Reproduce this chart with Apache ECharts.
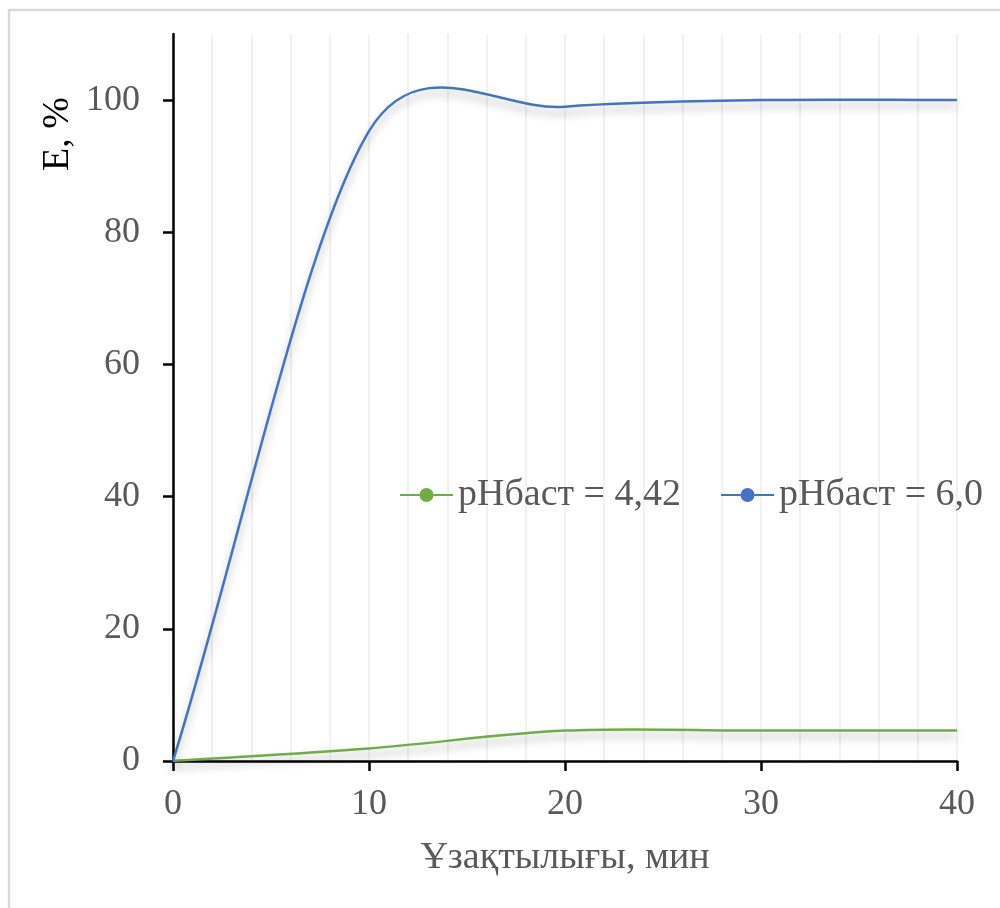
<!DOCTYPE html>
<html>
<head>
<meta charset="utf-8">
<style>
  html, body { margin: 0; padding: 0; background: #ffffff; }
  #chart { width: 1000px; height: 908px; }
</style>
<script src="https://cdn.jsdelivr.net/npm/echarts@6/dist/echarts.min.js"></script>
</head>
<body>
<div id="chart"></div>
<script>
// Extraction degree E (%) versus contact time (min) at two initial pH values
const timeMin = [0, 10, 20, 30, 40];
const seriesNames = ['pHбаст = 4,42', 'pHбаст = 6,0'];
const valuesPh442 = [0, 1.9, 4.6, 4.6, 4.6];
const valuesPh60 = [0, 95.3, 99.0, 100.0, 100.0];
const yTickValues = [0, 20, 40, 60, 80, 100];
const xTickValues = [0, 10, 20, 30, 40];
const xAxisTitle = 'Ұзақтылығы, мин';
const yAxisTitle = 'E, %';

const FONT = "'Liberation Serif', 'Times New Roman', serif";
const GREEN = '#70AD47';
const BLUE = '#4472C4';

// legend glyph: short line with a round marker in the middle
const LEGEND_ICON = 'path://M0,10 L19.5,10 L19.5,12 L0,12 Z ' +
  'M33.5,10 L53,10 L53,12 L33.5,12 Z ' +
  'M19.5,11 A7,7 0 1,0 33.5,11 A7,7 0 1,0 19.5,11 Z';

function pairs(xs, ys) {
  return xs.map((x, i) => [x, ys[i]]);
}

function dist(a, b) {
  return Math.hypot(b[0] - a[0], b[1] - a[1]);
}

// Cubic Bezier spline through the projected points (spreadsheet-style smoothing:
// Catmull-Rom tangents with tension 1/6, capped at half the segment length,
// chord-directed tangents at the two ends).
function smoothPath(pts) {
  const n = pts.length;
  let d = 'M' + pts[0][0] + ',' + pts[0][1];
  for (let i = 0; i < n - 1; i++) {
    const p1 = pts[i], p2 = pts[i + 1];
    const seg = dist(p1, p2);
    let c1, c2;
    if (i === 0) {
      c1 = [p1[0] + (p2[0] - p1[0]) / 3, p1[1] + (p2[1] - p1[1]) / 3];
    } else {
      const p0 = pts[i - 1];
      const span = dist(p0, p2);
      let f = 1 / 6;
      if (span * f > seg / 2) f = seg / (2 * span);
      c1 = [p1[0] + f * (p2[0] - p0[0]), p1[1] + f * (p2[1] - p0[1])];
    }
    if (i + 1 === n - 1) {
      c2 = [p2[0] - (p2[0] - p1[0]) / 3, p2[1] - (p2[1] - p1[1]) / 3];
    } else {
      const p3 = pts[i + 2];
      const span = dist(p1, p3);
      let f = 1 / 6;
      if (span * f > seg / 2) f = seg / (2 * span);
      c2 = [p2[0] - f * (p3[0] - p1[0]), p2[1] - f * (p3[1] - p1[1])];
    }
    d += ' C' + c1[0] + ',' + c1[1] + ' ' + c2[0] + ',' + c2[1] + ' ' + p2[0] + ',' + p2[1];
  }
  return d;
}

function curveSeries(name, color, values) {
  const data = pairs(timeMin, values);
  return {
    name: name,
    type: 'custom',
    coordinateSystem: 'cartesian2d',
    data: data,
    encode: { x: 0, y: 1 },
    itemStyle: { color: color },
    clip: false,
    silent: true,
    renderItem: function (params, api) {
      if (params.dataIndex !== 0) return null;
      const pts = data.map(p => api.coord(p));
      return {
        type: 'path',
        shape: { pathData: smoothPath(pts) },
        style: {
          fill: 'none',
          stroke: color,
          lineWidth: 2.5,
          lineJoin: 'round',
          shadowColor: 'rgba(0,0,0,0.32)',
          shadowBlur: 8,
          shadowOffsetY: 6
        }
      };
    }
  };
}

const chart = echarts.init(document.getElementById('chart'), null, { renderer: 'canvas' });

chart.setOption({
  backgroundColor: '#ffffff',
  animation: false,
  grid: { left: 173, right: 43, top: 34, bottom: 147, containLabel: false },
  legend: {
    data: seriesNames.map(n => ({ name: n, icon: LEGEND_ICON })),
    left: 395,
    top: 471,
    itemWidth: 53,
    itemHeight: 14,
    itemGap: 40,
    textStyle: { fontFamily: FONT, fontSize: 38, color: '#595959' },
    selectedMode: false
  },
  xAxis: {
    type: 'value',
    min: 0,
    max: 40,
    interval: 10,
    name: xAxisTitle,
    nameLocation: 'middle',
    nameGap: 78,
    nameTextStyle: { fontFamily: FONT, fontSize: 38, color: '#595959' },
    axisLine: { show: true, onZero: false, lineStyle: { color: '#000000', width: 2.5 } },
    axisTick: { show: true, length: 10, customValues: xTickValues, lineStyle: { color: '#000000', width: 2.5 } },
    axisLabel: { customValues: xTickValues, margin: 26, fontFamily: FONT, fontSize: 36, color: '#595959' },
    splitLine: { show: true, lineStyle: { color: '#ededed', width: 1.5 } },
    minorTick: { show: false, splitNumber: 5 },
    minorSplitLine: { show: true, lineStyle: { color: '#ededed', width: 1.5 } }
  },
  yAxis: {
    type: 'value',
    min: 0,
    max: 110,
    interval: 20,
    axisLine: { show: true, onZero: false, lineStyle: { color: '#000000', width: 2.5 } },
    axisTick: { show: true, length: 10, customValues: yTickValues, lineStyle: { color: '#000000', width: 2.5 } },
    axisLabel: { customValues: yTickValues, margin: 33, fontFamily: FONT, fontSize: 36, color: '#595959' },
    splitLine: { show: false }
  },
  graphic: [
    {
      type: 'rect',
      silent: true,
      z: -10,
      shape: { x: 9, y: 10, width: 1010, height: 920 },
      style: { fill: 'none', stroke: '#d9d9d9', lineWidth: 2.5 }
    },
    {
      type: 'text',
      silent: true,
      x: 58,
      y: 134,
      rotation: Math.PI / 2,
      style: {
        text: yAxisTitle,
        fontFamily: FONT,
        fontSize: 38,
        fill: '#000000',
        align: 'center',
        verticalAlign: 'middle'
      }
    }
  ],
  series: [
    curveSeries(seriesNames[0], GREEN, valuesPh442),
    curveSeries(seriesNames[1], BLUE, valuesPh60)
  ]
});
</script>
</body>
</html>
